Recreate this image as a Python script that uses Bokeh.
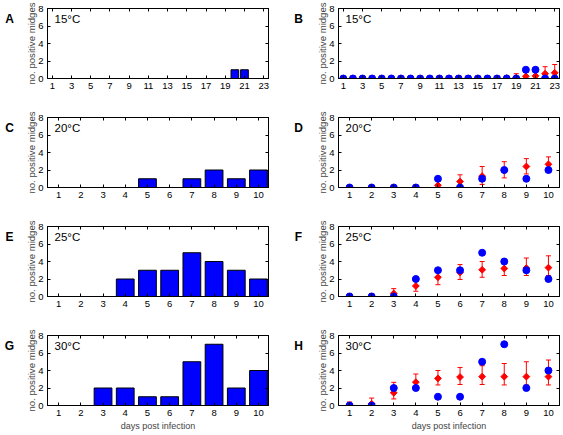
import numpy as np
from bokeh.plotting import figure
from bokeh.layouts import gridplot
from bokeh.models import (Range1d, LinearAxis, FixedTicker, Label, Whisker,
                          ColumnDataSource, TeeHead)
from bokeh.embed import file_html
from bokeh.resources import INLINE

# ---------------- data ----------------
days15 = [1, 2, 3, 4, 5, 6, 7, 8, 9, 10, 11, 12, 13, 14, 15, 16, 17, 18, 19, 20, 21, 22, 23]
ticks15 = [1, 3, 5, 7, 9, 11, 13, 15, 17, 19, 21, 23]
obs15 = [0, 0, 0, 0, 0, 0, 0, 0, 0, 0, 0, 0, 0, 0, 0, 0, 0, 0, 0, 1, 1, 0, 0]
mod15 = [0, 0, 0, 0, 0, 0, 0, 0, 0, 0, 0, 0, 0, 0, 0, 0, 0, 0.05, 0.1, 0.25, 0.3, 0.55, 0.65]
mod15_lo = [0, 0, 0, 0, 0, 0, 0, 0, 0, 0, 0, 0, 0, 0, 0, 0, 0, 0, 0, 0, 0, 0, 0]
mod15_hi = [0.3, 0.3, 0.3, 0.3, 0.3, 0.3, 0.3, 0.3, 0.3, 0.3, 0.3, 0.3, 0.3, 0.3, 0.3, 0.3, 0.3,
            0.35, 0.55, 0.7, 0.75, 1.35, 1.6]

days10 = [1, 2, 3, 4, 5, 6, 7, 8, 9, 10]
ticks10 = [1, 2, 3, 4, 5, 6, 7, 8, 9, 10]

obs20 = [0, 0, 0, 0, 1, 0, 1, 2, 1, 2]
mod20 = [0, 0, 0, 0, 0.25, 0.68, 1.3, 1.93, 2.4, 2.65]
mod20_lo = [0, 0, 0, 0, 0, 0, 0.35, 1.1, 1.55, 1.85]
mod20_hi = [0.25, 0.25, 0.25, 0.3, 0.85, 1.45, 2.4, 2.95, 3.3, 3.5]

obs25 = [0, 0, 0, 2, 3, 3, 5, 4, 3, 2]
mod25 = [0, 0, 0.35, 1.2, 2.2, 2.75, 3.05, 3.2, 3.25, 3.3]
mod25_lo = [0, 0, 0, 0.6, 1.35, 1.95, 2.2, 2.4, 2.4, 2.4]
mod25_hi = [0.35, 0.35, 0.9, 2.1, 2.9, 3.65, 4.0, 4.1, 4.4, 4.65]

obs30 = [0, 0, 2, 2, 1, 1, 5, 7, 2, 4]
mod30 = [0, 0.2, 1.45, 2.67, 3.1, 3.25, 3.3, 3.3, 3.3, 3.3]
mod30_lo = [0, 0, 0.75, 2.0, 2.35, 2.4, 2.4, 2.35, 2.35, 2.35]
mod30_hi = [0.4, 0.85, 2.65, 3.6, 4.0, 4.35, 4.55, 4.8, 5.0, 5.2]

yticks = [0, 2, 4, 6, 8]
temps = ["15°C", "20°C", "25°C", "30°C"]
letters = [["A", "B"], ["C", "D"], ["E", "F"], ["G", "H"]]
ylabel = "no. positive midges"
xlabel = "days post infection"

# ---------------- style ----------------
FONT = "Liberation Sans"
BLUE = "#0000ff"
RED = "#ff0000"
FH = 70
FW = 221
TOP = 8
BOTTOM = [31, 31, 31, 30]
BL = [29, 30]
BR = [10, 4]
LW = [18, 30]          # widths of the letter cells
LX = [9, 20]           # letter centre inside its cell


def style_axis(ax, ticks, show_labels=True):
    ax.ticker = FixedTicker(ticks=ticks)
    ax.major_tick_in = 3
    ax.major_tick_out = 0
    ax.minor_tick_in = 0
    ax.minor_tick_out = 0
    ax.axis_line_color = "black"
    ax.major_tick_line_color = "black"
    ax.major_label_text_font = FONT
    if show_labels:
        ax.major_label_text_color = "black"
        ax.major_label_text_font_size = "9.5px"
        ax.major_label_standoff = 4
    else:
        ax.major_label_text_color = None
        ax.major_label_text_font_size = "1px"
        ax.major_label_standoff = 0


def letter_cell(col, row):
    h = TOP + FH + BOTTOM[row]
    p = figure(frame_width=LW[col], frame_height=h,
               x_range=Range1d(0, 1), y_range=Range1d(0, 1),
               min_border_left=0, min_border_right=0, min_border_top=0, min_border_bottom=0,
               x_axis_location=None, y_axis_location=None,
               output_backend="svg", toolbar_location=None)
    p.xgrid.visible = False
    p.ygrid.visible = False
    p.outline_line_color = None
    p.background_fill_color = "white"
    p.border_fill_color = "white"
    p.add_layout(Label(x=LX[col], y=h - 3, x_units="screen", y_units="screen",
                       text=letters[row][col], text_font=FONT, text_font_size="12px",
                       text_font_style="bold", text_align="center", text_baseline="top",
                       text_color="black"))
    return p


def make_panel(col, row, days, xticks, xend, kind, obs, mod=None, lo=None, hi=None):
    last = row == 3
    p = figure(frame_width=FW, frame_height=FH,
               x_range=Range1d(0.5, xend), y_range=Range1d(0, 8),
               min_border_left=BL[col], min_border_right=BR[col],
               min_border_top=TOP, min_border_bottom=BOTTOM[row],
               output_backend="svg", toolbar_location=None)
    p.xgrid.visible = False
    p.ygrid.visible = False
    p.outline_line_color = "black"
    p.outline_line_width = 1
    p.background_fill_color = "white"
    p.border_fill_color = "white"

    style_axis(p.xaxis[0], xticks)
    style_axis(p.yaxis[0], yticks)
    p.yaxis[0].axis_label = ylabel
    p.yaxis[0].axis_label_text_font = FONT
    p.yaxis[0].axis_label_text_font_size = "9.6px"
    p.yaxis[0].axis_label_text_font_style = "normal"
    p.yaxis[0].axis_label_standoff = -2
    if last:
        p.xaxis[0].axis_label = xlabel
        p.xaxis[0].axis_label_text_font = FONT
        p.xaxis[0].axis_label_text_font_size = "9px"
        p.xaxis[0].axis_label_text_font_style = "normal"
        p.xaxis[0].axis_label_standoff = 2

    top = LinearAxis()
    style_axis(top, xticks, show_labels=False)
    p.add_layout(top, "above")
    right = LinearAxis()
    style_axis(right, yticks, show_labels=False)
    p.add_layout(right, "right")

    if kind == "bar":
        p.vbar(x=days, top=obs, width=0.8, fill_color=BLUE, line_color="black", line_width=1)
    else:
        src = ColumnDataSource(dict(x=days, m=mod, lo=lo, hi=hi))
        w = Whisker(base="x", lower="lo", upper="hi", source=src,
                    line_color=RED, line_width=1,
                    upper_head=TeeHead(size=5, line_color=RED, line_width=1),
                    lower_head=TeeHead(size=5, line_color=RED, line_width=1))
        p.add_layout(w)
        p.scatter(x="x", y="m", source=src, marker="square", angle=np.pi / 4,
                  size=4.8, fill_color=RED, line_color=RED)
        p.scatter(x=days, y=obs, marker="circle", size=7,
                  fill_color=BLUE, line_color=BLUE)

    p.add_layout(Label(x=7, y=FH - 4, x_units="screen", y_units="screen",
                       text=temps[row], text_font=FONT, text_font_size="11.5px",
                       text_align="left", text_baseline="top", text_color="black"))
    return p


pA = make_panel(0, 0, days15, ticks15, 23.5, "bar", obs15)
pB = make_panel(1, 0, days15, ticks15, 23.5, "dot", obs15, mod15, mod15_lo, mod15_hi)
pC = make_panel(0, 1, days10, ticks10, 10.45, "bar", obs20)
pD = make_panel(1, 1, days10, ticks10, 10.5, "dot", obs20, mod20, mod20_lo, mod20_hi)
pE = make_panel(0, 2, days10, ticks10, 10.45, "bar", obs25)
pF = make_panel(1, 2, days10, ticks10, 10.5, "dot", obs25, mod25, mod25_lo, mod25_hi)
pG = make_panel(0, 3, days10, ticks10, 10.45, "bar", obs30)
pH = make_panel(1, 3, days10, ticks10, 10.5, "dot", obs30, mod30, mod30_lo, mod30_hi)

panels = [[pA, pB], [pC, pD], [pE, pF], [pG, pH]]
rows = []
for r in range(4):
    rows.append([letter_cell(0, r), panels[r][0], letter_cell(1, r), panels[r][1]])

grid = gridplot(rows, toolbar_location=None)

open("out.html", "w").write(file_html(grid, INLINE))
